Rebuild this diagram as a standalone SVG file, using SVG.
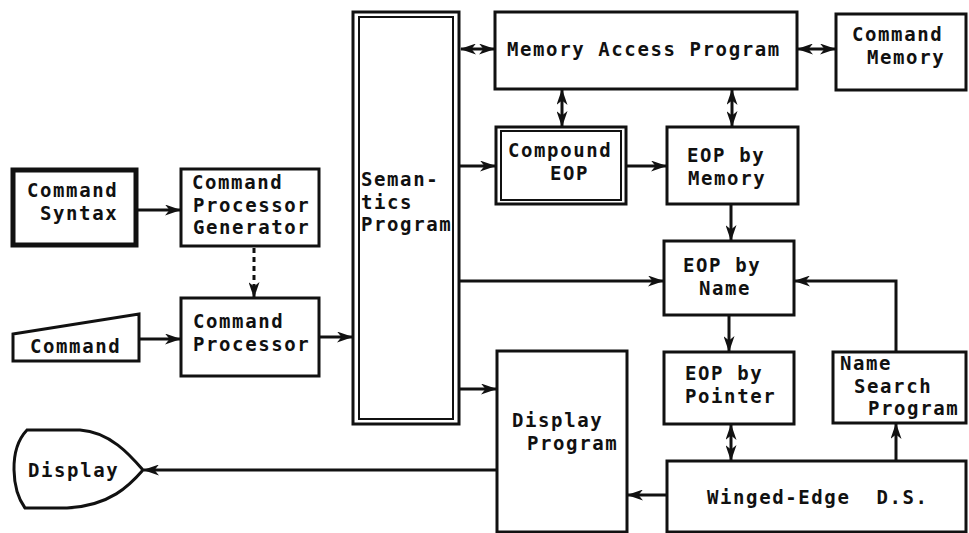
<svg xmlns="http://www.w3.org/2000/svg" width="969" height="533" viewBox="0 0 969 533">
<style>
.box{fill:#fff;stroke:#111;stroke-width:3}
.in{fill:none;stroke:#111;stroke-width:2}
.t{font-family:"DejaVu Sans Mono","Liberation Mono",monospace;font-size:19px;font-weight:bold;letter-spacing:1.6px;fill:#111;white-space:pre}
.c{fill:none;stroke:#111;stroke-width:3}
</style>
<defs>
<marker id="ah" viewBox="0 0 16 11" refX="15" refY="5.5" markerWidth="16" markerHeight="11" orient="auto-start-reverse" markerUnits="userSpaceOnUse"><path d="M0,0 L16,5.5 L0,11 L4.5,5.5 z" fill="#111"/></marker>
</defs>
<rect width="969" height="533" fill="#fff"/>
<g id="command-syntax"><rect class="box" x="13" y="170" width="123" height="75" style="stroke-width:5"/><text class="t" x="27" y="197">Command</text><text class="t" x="40" y="220">Syntax</text></g>
<g id="cp-generator"><rect class="box" x="181" y="169" width="138" height="77"/><text class="t" x="192" y="189">Command</text><text class="t" x="193" y="211.5">Processor</text><text class="t" x="193" y="234">Generator</text></g>
<g id="command"><polygon class="box" points="13,334 139,314 139,361 13,361"/><text class="t" x="30" y="353">Command</text></g>
<g id="cp"><rect class="box" x="181" y="298" width="138" height="78"/><text class="t" x="193" y="328">Command</text><text class="t" x="193" y="351">Processor</text></g>
<g id="semantics"><rect class="box" x="353" y="12" width="106" height="412"/><rect class="in" x="359" y="17" width="94" height="402"/><text class="t" x="361" y="186">Seman-</text><text class="t" x="361" y="208.5">tics</text><text class="t" x="361" y="231">Program</text></g>
<g id="memory-access"><rect class="box" x="495" y="12" width="302" height="77"/><text class="t" x="507" y="56">Memory Access Program</text></g>
<g id="command-memory"><rect class="box" x="836" y="14" width="130" height="76"/><text class="t" x="852" y="41">Command</text><text class="t" x="867" y="64">Memory</text></g>
<g id="compound-eop"><rect class="box" x="496" y="127" width="130" height="77"/><rect class="in" x="501" y="131" width="120" height="69"/><text class="t" x="508" y="157">Compound</text><text class="t" x="550" y="180">EOP</text></g>
<g id="eop-memory"><rect class="box" x="667" y="127" width="131" height="77"/><text class="t" x="687" y="162">EOP by</text><text class="t" x="688" y="185">Memory</text></g>
<g id="eop-name"><rect class="box" x="664" y="241" width="130" height="74"/><text class="t" x="683" y="272">EOP by</text><text class="t" x="699" y="295">Name</text></g>
<g id="eop-pointer"><rect class="box" x="664" y="352" width="130" height="72"/><text class="t" x="685" y="380">EOP by</text><text class="t" x="685" y="403">Pointer</text></g>
<g id="name-search"><rect class="box" x="833" y="352" width="133" height="71"/><text class="t" x="840" y="370">Name</text><text class="t" x="854" y="392.5">Search</text><text class="t" x="868" y="415">Program</text></g>
<g id="display-program"><rect class="box" x="497" y="351" width="130" height="181"/><text class="t" x="512" y="427">Display</text><text class="t" x="527" y="450">Program</text></g>
<g id="winged-edge"><rect class="box" x="667" y="461" width="299" height="71"/><text class="t" x="707" y="504" xml:space="preserve">Winged-Edge  D.S.</text></g>
<g id="display"><path class="box" d="M27,430 L80,430 C110,432 130,455 143,470 C130,485 110,506 67,508 L25,508 C12,490 8,450 27,430 Z"/><text class="t" x="28" y="477">Display</text></g>
<g id="connectors">
<line class="c" x1="138" y1="210" x2="180" y2="210" marker-end="url(#ah)"/>
<line class="c" x1="254" y1="248" x2="254" y2="297" stroke-dasharray="5,4" marker-end="url(#ah)"/>
<line class="c" x1="140" y1="339" x2="180" y2="339" marker-end="url(#ah)"/>
<line class="c" x1="320" y1="337" x2="352" y2="337" marker-end="url(#ah)"/>
<line class="c" x1="461" y1="49" x2="494" y2="49" marker-start="url(#ah)" marker-end="url(#ah)"/>
<line class="c" x1="798" y1="49" x2="835" y2="49" marker-start="url(#ah)" marker-end="url(#ah)"/>
<line class="c" x1="562" y1="90" x2="562" y2="126" marker-start="url(#ah)" marker-end="url(#ah)"/>
<line class="c" x1="732" y1="90" x2="732" y2="126" marker-start="url(#ah)" marker-end="url(#ah)"/>
<line class="c" x1="460" y1="166" x2="495" y2="166" marker-end="url(#ah)"/>
<line class="c" x1="627" y1="166" x2="666" y2="166" marker-end="url(#ah)"/>
<line class="c" x1="731" y1="205" x2="731" y2="240" marker-end="url(#ah)"/>
<line class="c" x1="460" y1="281" x2="663" y2="281" marker-end="url(#ah)"/>
<polyline class="c" points="896,352 896,281 795,281" marker-end="url(#ah)"/>
<line class="c" x1="729" y1="316" x2="729" y2="351" marker-end="url(#ah)"/>
<line class="c" x1="731" y1="425" x2="731" y2="460" marker-start="url(#ah)" marker-end="url(#ah)"/>
<line class="c" x1="896" y1="461" x2="896" y2="424" marker-end="url(#ah)"/>
<line class="c" x1="460" y1="389" x2="496" y2="389" marker-end="url(#ah)"/>
<line class="c" x1="667" y1="495" x2="628" y2="495" marker-end="url(#ah)"/>
<line class="c" x1="497" y1="470" x2="144" y2="470" marker-end="url(#ah)"/>
</g>
</svg>
